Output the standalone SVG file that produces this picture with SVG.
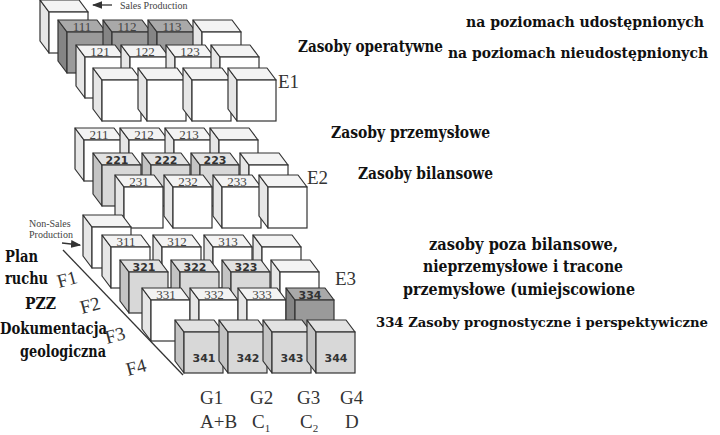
<svg xmlns="http://www.w3.org/2000/svg" width="720" height="435" viewBox="0 0 720 435">
<style>
.s{fill:var(--s);stroke:#333;stroke-width:1.2;stroke-linejoin:round}
.t{fill:var(--t);stroke:#333;stroke-width:1.2;stroke-linejoin:round}
.f{fill:var(--f);stroke:#333;stroke-width:1.2}
.w{--f:#fff;--t:#f3f3f3;--s:#e6e6e6}
.g{--f:#d8d8d8;--t:#e2e2e2;--s:#c4c4c4}
.d{--f:#9a9a9a;--t:#a9a9a9;--s:#858585}
.n{font-family:"Liberation Serif",serif;font-size:13px;fill:#444;text-anchor:middle}
.nb{font-family:"DejaVu Sans",sans-serif;font-size:11px;font-weight:bold;fill:#333;text-anchor:middle}
.lab{font-family:"DejaVu Serif","Liberation Serif",serif;font-size:16px;font-weight:bold;fill:#111}
.lr{font-size:14px}
.big{font-family:"Liberation Serif",serif;font-size:19px;fill:#333}
.sm{font-family:"Liberation Serif",serif;font-size:10px;fill:#444}
</style>
<defs>
<g id="c">
<polygon class="s" points="0,0 9,12 9,53 0,41"/>
<polygon class="t" points="0,0 39,0 48,12 9,12"/>
<rect class="f" x="9" y="12" width="39" height="41"/>
</g>
<marker id="ah" markerWidth="8" markerHeight="6" refX="7" refY="3" orient="auto"><path d="M0,0 L8,3 L0,6 z" fill="#333"/></marker>
</defs>
<g id="E1">
<use href="#c" x="40" y="0" class="w"/>
<use href="#c" x="58" y="20" class="d"/><use href="#c" x="103" y="20" class="d"/><use href="#c" x="148" y="20" class="d"/><use href="#c" x="193" y="20" class="w"/>
<text class="n" x="82" y="31">111</text><text class="n" x="127" y="31">112</text><text class="n" x="172" y="31">113</text>
<use href="#c" x="76" y="45" class="w"/><use href="#c" x="121" y="45" class="w"/><use href="#c" x="166" y="45" class="w"/><use href="#c" x="211" y="45" class="w"/>
<text class="n" x="100" y="56">121</text><text class="n" x="145" y="56">122</text><text class="n" x="190" y="56">123</text>
<use href="#c" x="93" y="68" class="w"/><use href="#c" x="138" y="68" class="w"/><use href="#c" x="183" y="68" class="w"/><use href="#c" x="228" y="68" class="w"/>
</g>
<g id="E2">
<use href="#c" x="75" y="128" class="w"/><use href="#c" x="120" y="128" class="w"/><use href="#c" x="165" y="128" class="w"/><use href="#c" x="210" y="128" class="w"/>
<text class="n" x="99" y="139">211</text><text class="n" x="144" y="139">212</text><text class="n" x="189" y="139">213</text>
<use href="#c" x="93" y="153" class="g"/><use href="#c" x="142" y="153" class="g"/><use href="#c" x="191" y="153" class="g"/><use href="#c" x="240" y="153" class="w"/>
<text class="nb" x="117" y="164">221</text><text class="nb" x="166" y="164">222</text><text class="nb" x="215" y="164">223</text>
<use href="#c" x="115" y="175" class="w"/><use href="#c" x="164" y="175" class="w"/><use href="#c" x="213" y="175" class="w"/><use href="#c" x="259" y="175" class="w"/>
<text class="n" x="139" y="186">231</text><text class="n" x="188" y="186">232</text><text class="n" x="237" y="186">233</text>
</g>
<g id="E3">
<use href="#c" x="83" y="215" class="w"/>
<use href="#c" x="102" y="235" class="w"/><use href="#c" x="153" y="235" class="w"/><use href="#c" x="204" y="235" class="w"/><use href="#c" x="253" y="235" class="w"/>
<text class="n" x="126" y="246">311</text><text class="n" x="177" y="246">312</text><text class="n" x="228" y="246">313</text>
<use href="#c" x="120" y="260" class="g"/><use href="#c" x="171" y="260" class="g"/><use href="#c" x="222" y="260" class="g"/><use href="#c" x="271" y="260" class="w"/>
<text class="nb" x="144" y="271">321</text><text class="nb" x="195" y="271">322</text><text class="nb" x="246" y="271">323</text>
<use href="#c" x="142" y="288" class="w"/><use href="#c" x="190" y="288" class="w"/><use href="#c" x="238" y="288" class="w"/><use href="#c" x="286" y="288" class="d"/>
<text class="n" x="166" y="299">331</text><text class="n" x="214" y="299">332</text><text class="n" x="262" y="299">333</text><text class="nb" x="310" y="299">334</text>
<use href="#c" x="175" y="320" class="g"/><use href="#c" x="219" y="320" class="g"/><use href="#c" x="263" y="320" class="g"/><use href="#c" x="307" y="320" class="g"/>
<text class="nb" x="204" y="362">341</text><text class="nb" x="248" y="362">342</text><text class="nb" x="292" y="362">343</text><text class="nb" x="336" y="362">344</text>
</g>
<g id="connectors" stroke="#333" stroke-width="1.3" fill="none">
<line x1="63" y1="250" x2="183" y2="375"/>
<line x1="112" y1="5" x2="93" y2="5" marker-end="url(#ah)"/>
<line x1="62" y1="243" x2="80" y2="245" marker-end="url(#ah)"/>
</g>
<g id="labels">
<text class="sm" x="120" y="9" font-size="11">Sales Production</text>
<text class="sm" x="29" y="227" font-size="9">Non-Sales</text>
<text class="sm" x="29" y="238" font-size="9">Production</text>
<text class="lab" x="5" y="262" textLength="33" lengthAdjust="spacingAndGlyphs">Plan</text>
<text class="lab" x="5" y="284" textLength="43" lengthAdjust="spacingAndGlyphs">ruchu</text>
<text class="lab" x="25" y="309" textLength="31" lengthAdjust="spacingAndGlyphs">PZZ</text>
<text class="lab" x="0" y="334" textLength="107" lengthAdjust="spacingAndGlyphs">Dokumentacja</text>
<text class="lab" x="20" y="357" textLength="86" lengthAdjust="spacingAndGlyphs">geologiczna</text>
<text class="big" x="59" y="288" font-size="16" transform="rotate(-15 59 288)">F1</text>
<text class="big" x="82" y="314" font-size="16" transform="rotate(-15 82 314)">F2</text>
<text class="big" x="107" y="344" font-size="16" transform="rotate(-15 107 344)">F3</text>
<text class="big" x="128" y="376" font-size="16" transform="rotate(-15 128 376)">F4</text>
<text class="big" x="278" y="88">E1</text>
<text class="big" x="307" y="184">E2</text>
<text class="big" x="335" y="285">E3</text>
<text class="big" x="200" y="404" font-size="18">G1</text>
<text class="big" x="250" y="404" font-size="18">G2</text>
<text class="big" x="297" y="404" font-size="18">G3</text>
<text class="big" x="340" y="404" font-size="18">G4</text>
<text class="big" x="200" y="428" font-size="17">A+B</text>
<text class="big" x="252" y="428" font-size="17">C<tspan font-size="11" dy="4">1</tspan></text>
<text class="big" x="300" y="428" font-size="17">C<tspan font-size="11" dy="4">2</tspan></text>
<text class="big" x="345" y="428" font-size="17">D</text>
<text class="lab" x="298" y="52" textLength="145" lengthAdjust="spacingAndGlyphs">Zasoby operatywne</text>
<text class="lab lr" x="466" y="27" textLength="238" lengthAdjust="spacingAndGlyphs">na poziomach udostępnionych</text>
<text class="lab lr" x="448" y="58" textLength="260" lengthAdjust="spacingAndGlyphs">na poziomach nieudostępnionych</text>
<text class="lab" x="331" y="138" textLength="159" lengthAdjust="spacingAndGlyphs">Zasoby przemysłowe</text>
<text class="lab" x="358" y="179" textLength="135" lengthAdjust="spacingAndGlyphs">Zasoby bilansowe</text>
<text class="lab" x="429" y="250" textLength="189" lengthAdjust="spacingAndGlyphs">zasoby poza bilansowe,</text>
<text class="lab" x="423" y="272" textLength="200" lengthAdjust="spacingAndGlyphs">nieprzemysłowe i tracone</text>
<text class="lab" x="403" y="295" textLength="232" lengthAdjust="spacingAndGlyphs">przemysłowe (umiejscowione</text>
<text class="lab lr" x="376" y="327" font-size="13" style="font-size:13px" textLength="332" lengthAdjust="spacingAndGlyphs">334  Zasoby prognostyczne i perspektywiczne</text>
</g>
</svg>
